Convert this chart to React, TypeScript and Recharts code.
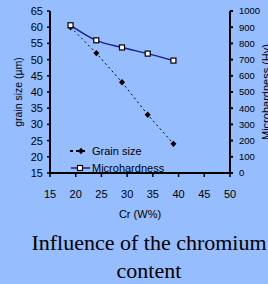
import React from "react";
import { ComposedChart, Line, XAxis, YAxis } from "recharts";

const crContent = [19, 24, 29, 34, 39];
const grainSize = [60, 52, 43, 33, 24];
const microhardness = [912, 819, 775, 737, 694];
const xTicks = [15, 20, 25, 30, 35, 40, 45, 50];
const leftTicks = [15, 20, 25, 30, 35, 40, 45, 50, 55, 60, 65];
const rightTicks = [0, 100, 200, 300, 400, 500, 600, 700, 800, 900, 1000];

const data = crContent.map((cr, i) => ({ cr, grain: grainSize[i], hv: microhardness[i] }));

const BG = "#96bdfd";
const NAVY = "#1c1c9c";
const FONT = "'Liberation Sans', Arial, sans-serif";

const GrainDot = (props: any) => {
  const { cx, cy } = props;
  if (cx == null || cy == null) return null;
  return <path d={`M${cx},${cy - 3.2}L${cx + 3},${cy}L${cx},${cy + 3.2}L${cx - 3},${cy}Z`} fill="#000" />;
};

const HvDot = (props: any) => {
  const { cx, cy } = props;
  if (cx == null || cy == null) return null;
  return <rect x={cx - 2.5} y={cy - 2.5} width={5} height={5} fill="#fff" stroke="#000" strokeWidth={1.2} />;
};

const LegendOverlay = () => (
  <svg width={120} height={30} style={{ position: "absolute", left: 68, top: 144, overflow: "visible" }}>
    <line x1={2} y1={7} x2={18} y2={7} stroke="#000" strokeWidth={2} strokeDasharray="3 3" />
    <path d="M13,3.8L16,7L13,10.2L10,7Z" fill="#000" />
    <text x={24} y={11} fontSize={11} fontFamily={FONT} fill="#000">Grain size</text>
    <line x1={3} y1={24} x2={22} y2={24} stroke={NAVY} strokeWidth={1.5} />
    <rect x={9.5} y={21.5} width={5} height={5} fill="#fff" stroke="#000" strokeWidth={1.2} />
    <text x={24} y={28} fontSize={11} fontFamily={FONT} fill="#000">Microhardness</text>
  </svg>
);

export default function App() {
  document.body.style.margin = "0";
  return (
    <div style={{ position: "relative", width: 268, height: 284, background: BG, overflow: "hidden" }}>
      <ComposedChart
        width={268}
        height={230}
        data={data}
        margin={{ top: 11, right: 0, bottom: 12, left: 0 }}
      >
        <XAxis
          dataKey="cr"
          type="number"
          domain={[15, 50]}
          ticks={xTicks}
          height={45}
          tickMargin={13}
          tickSize={4}
          axisLine={{ stroke: "#000", strokeWidth: 2 }}
          tickLine={{ stroke: "#000", strokeWidth: 1.5 }}
          tick={{ fill: "#000", fontSize: 11, fontFamily: FONT }}
          label={{ value: "Cr (W%)", position: "insideBottom", offset: 0, fill: "#000", fontSize: 11, fontFamily: FONT }}
        />
        <XAxis xAxisId="top" orientation="top" type="number" domain={[15, 50]} tick={false} tickLine={false} height={0} axisLine={{ stroke: "#000", strokeWidth: 1.5 }} />
        <YAxis
          yAxisId="left"
          domain={[15, 65]}
          ticks={leftTicks}
          width={50}
          tickSize={3}
          tickMargin={4}
          interval={0}
          axisLine={{ stroke: "#000", strokeWidth: 2 }}
          tickLine={{ stroke: "#000", strokeWidth: 1.5 }}
          tick={{ fill: "#000", fontSize: 11, fontFamily: FONT }}
          label={{ value: "grain size (µm)", angle: -90, position: "insideLeft", offset: 18, style: { textAnchor: "middle" }, fill: "#000", fontSize: 10.5, fontFamily: FONT }}
        />
        <YAxis
          yAxisId="right"
          orientation="right"
          domain={[0, 1000]}
          ticks={rightTicks}
          width={38}
          tickSize={3}
          tickMargin={6}
          interval={0}
          axisLine={{ stroke: "#000", strokeWidth: 2 }}
          tickLine={{ stroke: "#000", strokeWidth: 2 }}
          tick={{ fill: "#000", fontSize: 9.5, fontFamily: FONT }}
          label={{ value: "Microhardness (Hv)", angle: -90, position: "insideRight", offset: 2, style: { textAnchor: "middle" }, fill: "#000", fontSize: 11, fontFamily: FONT }}
        />
        <Line
          yAxisId="left"
          dataKey="grain"
          type="linear"
          stroke="#000"
          strokeWidth={1}
          strokeDasharray="2 3"
          dot={<GrainDot />}
          isAnimationActive={false}
        />
        <Line
          yAxisId="right"
          dataKey="hv"
          type="monotone"
          stroke={NAVY}
          strokeWidth={1.5}
          dot={<HvDot />}
          isAnimationActive={false}
        />
      </ComposedChart>
      <LegendOverlay />
      <div
        style={{
          position: "absolute",
          top: 229,
          left: 0,
          width: 298,
          textAlign: "center",
          fontFamily: "'Liberation Serif', 'Times New Roman', serif",
          fontSize: 22,
          lineHeight: "28px",
          color: "#000",
          whiteSpace: "nowrap",
        }}
      >
        Influence of the chromium
        <br />
        content
      </div>
    </div>
  );
}
